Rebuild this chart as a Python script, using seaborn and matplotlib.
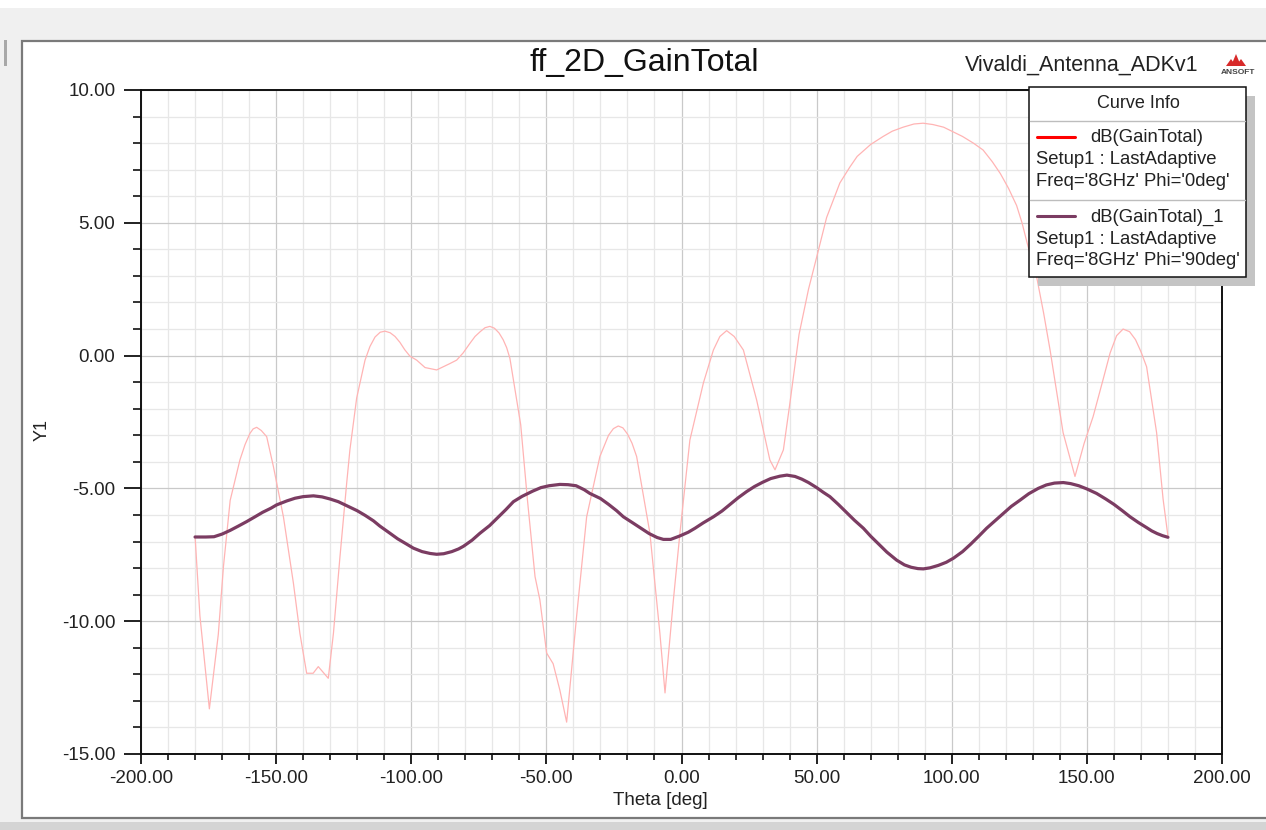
import numpy as np
import pandas as pd
import matplotlib
matplotlib.use("Agg")
import matplotlib.pyplot as plt
from matplotlib.patches import Rectangle, Polygon
from matplotlib.lines import Line2D
from matplotlib.ticker import MultipleLocator, FormatStrFormatter
import seaborn as sns

# ---- far-field gain cuts at 8 GHz (theta in deg, gain in dB) ----
theta_phi0 = [-180, -178.2, -174.7, -171.4, -169.5, -167, -163.4, -161.5, -159.7, -158.5,
              -157.2, -155.5, -153.5, -151, -147.3, -143.6, -141.2, -138.7, -136.3, -134.4,
              -130.7, -128.8, -126.4, -123.9, -122.7, -120.2, -117.1, -115.3, -113.4, -111.5,
              -109.7, -107.8, -106, -104.2, -102.4, -100.5, -98, -94.9, -90.6, -85.7,
              -83.2, -80.8, -78.3, -76.4, -74.5, -72.7, -70.9, -69.2, -67.5, -66,
              -64.7, -63.5, -61, -59.5, -57, -54.2, -52.4, -49.9, -47.5, -45,
              -42.5, -38.8, -35.1, -30.2, -27, -25.2, -23.4, -21.7, -20, -18.3,
              -16.6, -11.7, -8, -6.1, -3, -0.6, 3.1, 8.1, 11.8, 14.2,
              16.7, 19.5, 22.9, 27.8, 32.7, 34.6, 37.7, 40.1, 43.5, 47,
              50, 53.7, 58.6, 62.3, 65, 70, 74.6, 78, 82, 86,
              89.4, 93, 97, 100, 104, 108, 111.6, 115, 118, 121,
              124, 126, 128, 131.4, 134, 136.4, 141.2, 145.6, 149, 152.3,
              156, 158.6, 161, 163.4, 165.8, 168, 170, 172.1, 175.8, 178.2, 180]
gain_phi0 = [-6.8, -9.8, -13.3, -10.5, -7.95, -5.45, -3.93, -3.35, -2.93, -2.76,
             -2.7, -2.82, -3.05, -4.18, -6.07, -8.57, -10.46, -11.96, -11.96, -11.71,
             -12.15, -10.46, -7.6, -4.81, -3.55, -1.6, -0.17, 0.34, 0.7, 0.88,
             0.92, 0.86, 0.72, 0.5, 0.22, -0.02, -0.17, -0.45, -0.54, -0.3,
             -0.17, 0.1, 0.46, 0.72, 0.9, 1.05, 1.1, 1.03, 0.85, 0.6,
             0.3, -0.1, -1.67, -2.6, -5.44, -8.32, -9.2, -11.2, -11.6, -12.6,
             -13.8, -9.8, -6.07, -3.8, -3.0, -2.75, -2.65, -2.72, -2.95, -3.3,
             -3.8, -6.68, -10.45, -12.7, -9.2, -6.7, -3.18, -1.03, 0.21, 0.72,
             0.94, 0.72, 0.21, -1.67, -3.93, -4.3, -3.55, -1.8, 0.8, 2.5,
             3.7, 5.2, 6.5, 7.1, 7.5, 7.95, 8.25, 8.45, 8.6, 8.72,
             8.75, 8.7, 8.6, 8.45, 8.25, 8.0, 7.74, 7.3, 6.85, 6.3,
             5.65, 5.0, 4.2, 2.97, 1.6, 0.2, -2.9, -4.55, -3.3, -2.3,
             -0.9, 0.1, 0.75, 1.0, 0.9, 0.6, 0.15, -0.42, -2.9, -5.4, -6.8]

theta_phi90 = [-180, -176, -173, -170, -167, -164, -160.9, -158, -155, -152,
               -149.8, -146, -143, -140, -136.2, -133, -130, -127, -123.9, -120,
               -117, -114, -111.6, -108, -105, -102, -99.2, -96, -93, -90.6,
               -88, -85, -82.5, -80.7, -77.5, -74.6, -71, -68, -65, -62.2,
               -59, -55, -52, -49, -45, -42, -39, -36, -33.9, -30,
               -27, -24, -21.5, -18, -15, -12, -9, -6.7, -4, -0.6,
               2.5, 5, 8, 11.8, 15, 18, 21, 24.1, 27, 30,
               33, 36.4, 39, 42, 44.5, 47, 50, 52.5, 54.9, 58,
               61, 64, 67.3, 70, 73, 76, 79.6, 82.5, 85, 87.5,
               89.5, 92, 95, 98, 100.6, 104, 107, 110, 112.9, 116,
               119, 122, 125.3, 128.5, 132, 135, 138, 141.3, 144, 147,
               150, 153.6, 157, 160, 163, 166, 169, 172, 174, 176,
               178, 180]
gain_phi90 = [-6.83, -6.83, -6.82, -6.72, -6.58, -6.42, -6.25, -6.08, -5.9, -5.75,
              -5.62, -5.47, -5.37, -5.31, -5.28, -5.32, -5.4, -5.5, -5.65, -5.84,
              -6.02, -6.22, -6.42, -6.68, -6.9, -7.08, -7.25, -7.38, -7.45, -7.48,
              -7.46, -7.38, -7.28, -7.18, -6.95, -6.69, -6.4, -6.1, -5.8, -5.5,
              -5.3, -5.1, -4.97, -4.9, -4.85, -4.86, -4.9, -5.05, -5.19, -5.38,
              -5.6, -5.84, -6.07, -6.3, -6.5, -6.7, -6.85, -6.92, -6.92, -6.79,
              -6.65, -6.5, -6.3, -6.07, -5.85, -5.6, -5.35, -5.12, -4.93, -4.77,
              -4.63, -4.54, -4.5, -4.55, -4.65, -4.78, -4.97, -5.15, -5.31, -5.6,
              -5.9, -6.2, -6.5, -6.8, -7.1, -7.4, -7.7, -7.88, -7.97, -8.02,
              -8.03, -7.99, -7.9, -7.78, -7.63, -7.38, -7.1, -6.8, -6.5, -6.22,
              -5.95, -5.68, -5.44, -5.2, -5.0, -4.87, -4.8, -4.78, -4.82, -4.9,
              -5.02, -5.19, -5.4, -5.6, -5.83, -6.07, -6.28, -6.47, -6.6, -6.7,
              -6.78, -6.84]

x_ticks = [-200, -150, -100, -50, 0, 50, 100, 150, 200]
y_ticks = [-15, -10, -5, 0, 5, 10]

curve_names = ["dB(GainTotal)", "dB(GainTotal)_1"]
curve_setup = ["Setup1 : LastAdaptive", "Setup1 : LastAdaptive"]
curve_freq = ["Freq='8GHz' Phi='0deg'", "Freq='8GHz' Phi='90deg'"]

RED_TRACE = "#ffb4b4"
RED_KEY = "#ff0000"
PLUM = "#7b3c62"

df0 = pd.DataFrame({"theta": theta_phi0, "gain": gain_phi0})
df90 = pd.DataFrame({"theta": theta_phi90, "gain": gain_phi90})

sns.set_style("white")
plt.rcParams["font.family"] = ["Liberation Sans", "DejaVu Sans"]

W, H = 1266, 830
fig = plt.figure(figsize=(W / 100, H / 100), dpi=100)
fig.patch.set_facecolor("#f0f0f0")


def fx(px):
    return px / W


def fy(py):
    return 1 - py / H


# report window panel (kept beneath the plot axes)
fig.patches.append(Rectangle((fx(0), fy(8)), 1, 8 / H, transform=fig.transFigure,
                             facecolor="white", edgecolor="none", zorder=-10))
fig.patches.append(Rectangle((fx(22), fy(818)), fx(1300 - 22), (818 - 41) / H,
                             transform=fig.transFigure, facecolor="white",
                             edgecolor="#7a7a7a", linewidth=1.6, zorder=-10))
fig.patches.append(Rectangle((fx(0), fy(830)), 1, 8 / H, transform=fig.transFigure,
                             facecolor="#d4d4d4", edgecolor="none", zorder=-10))
fig.patches.append(Rectangle((fx(4), fy(66)), 3 / W, 26 / H, transform=fig.transFigure,
                             facecolor="#a8a8a8", edgecolor="none", zorder=-10))

ax = fig.add_axes([fx(141), fy(754), fx(1222) - fx(141), (754 - 90) / H])
ax.set_zorder(1)
ax.set_facecolor("white")

sns.lineplot(data=df0, x="theta", y="gain", ax=ax, color=RED_TRACE, linewidth=0.9,
             estimator=None, sort=False, zorder=3, solid_joinstyle="round")
sns.lineplot(data=df90, x="theta", y="gain", ax=ax, color=PLUM, linewidth=2.3,
             estimator=None, sort=False, zorder=4, solid_joinstyle="round")

ax.set_xlim(-200, 200)
ax.set_ylim(-15, 10)
ax.set_xticks(x_ticks)
ax.set_yticks(y_ticks)
ax.xaxis.set_minor_locator(MultipleLocator(10))
ax.yaxis.set_minor_locator(MultipleLocator(1))
ax.xaxis.set_major_formatter(FormatStrFormatter("%.2f"))
ax.yaxis.set_major_formatter(FormatStrFormatter("%.2f"))
ax.set_axisbelow(True)
ax.grid(which="major", color="#c9c9c9", linewidth=0.9)
ax.grid(which="minor", color="#e7e7e7", linewidth=0.9)

for s in ax.spines.values():
    s.set_color("#101010")
    s.set_linewidth(1.4)

ax.tick_params(axis="x", which="major", direction="out", length=7.5, width=1.3,
               color="#101010", labelsize=13.5, labelcolor="#222222", pad=4, bottom=True)
ax.tick_params(axis="x", which="minor", direction="out", length=4.5, width=1.2,
               color="#101010", bottom=True)
ax.tick_params(axis="y", which="major", direction="out", length=12.5, width=1.3,
               color="#101010", labelsize=13.5, labelcolor="#222222", pad=6, left=True)
ax.tick_params(axis="y", which="minor", direction="out", length=6, width=1.2,
               color="#101010", left=True)

ax.set_xlabel("")
ax.set_ylabel("")
fig.text(fx(660), fy(800), "Theta [deg]", ha="center", va="center",
         fontsize=13.5, color="#222222")
fig.text(fx(42), fy(430), "Y1", ha="center", va="center", rotation=90,
         fontsize=13, color="#222222")

# headings
fig.text(fx(644), fy(63), "ff_2D_GainTotal", ha="center", va="center",
         fontsize=23, color="#111111")
fig.text(fx(1198), fy(65), "Vivaldi_Antenna_ADKv1", ha="right", va="center",
         fontsize=15.5, color="#222222")

# small vendor mark
for dx in (0, 5, 10):
    fig.patches.append(Polygon([(fx(1226 + dx), fy(66)), (fx(1231 + dx), fy(54 + abs(dx - 5))),
                                (fx(1236 + dx), fy(66))], closed=True,
                               transform=fig.transFigure, facecolor="#d82a2a",
                               edgecolor="none", zorder=5))
fig.text(fx(1238), fy(73), "ANSOFT", ha="center", va="center", fontsize=6,
         fontweight="bold", color="#444444")

# curve info box with drop shadow
bx0, by0, bx1, by1 = 1029, 87, 1246, 277
fig.patches.append(Rectangle((fx(bx0 + 9), fy(by1 + 9)), (bx1 - bx0) / W, (by1 - by0) / H,
                             transform=fig.transFigure, facecolor="#c4c4c4",
                             edgecolor="none", zorder=6))
fig.patches.append(Rectangle((fx(bx0), fy(by1)), (bx1 - bx0) / W, (by1 - by0) / H,
                             transform=fig.transFigure, facecolor="white",
                             edgecolor="#111111", linewidth=1.1, zorder=7))
for sep in (121, 200):
    fig.lines.append(Line2D([fx(bx0 + 1), fx(bx1 - 1)], [fy(sep), fy(sep)],
                            transform=fig.transFigure, color="#bdbdbd",
                            linewidth=1.0, zorder=8))
fig.text(fx(1138), fy(104), "Curve Info", ha="center", va="center",
         fontsize=13, color="#222222", zorder=9)

key_colors = [RED_KEY, PLUM]
rows = [137, 216]
for i in range(2):
    y0 = rows[i]
    fig.lines.append(Line2D([fx(1037), fx(1075)], [fy(y0), fy(y0)],
                            transform=fig.transFigure, color=key_colors[i],
                            linewidth=2.2, zorder=9))
    fig.text(fx(1090), fy(y0 + 1), curve_names[i], ha="left", va="center",
             fontsize=13.3, color="#222222", zorder=9)
    fig.text(fx(1036), fy(y0 + 23), curve_setup[i], ha="left", va="center",
             fontsize=13.3, color="#222222", zorder=9)
    fig.text(fx(1036), fy(y0 + 44.5), curve_freq[i], ha="left", va="center",
             fontsize=13.3, color="#222222", zorder=9)

fig.savefig("out.png", dpi=100, facecolor=fig.get_facecolor())
